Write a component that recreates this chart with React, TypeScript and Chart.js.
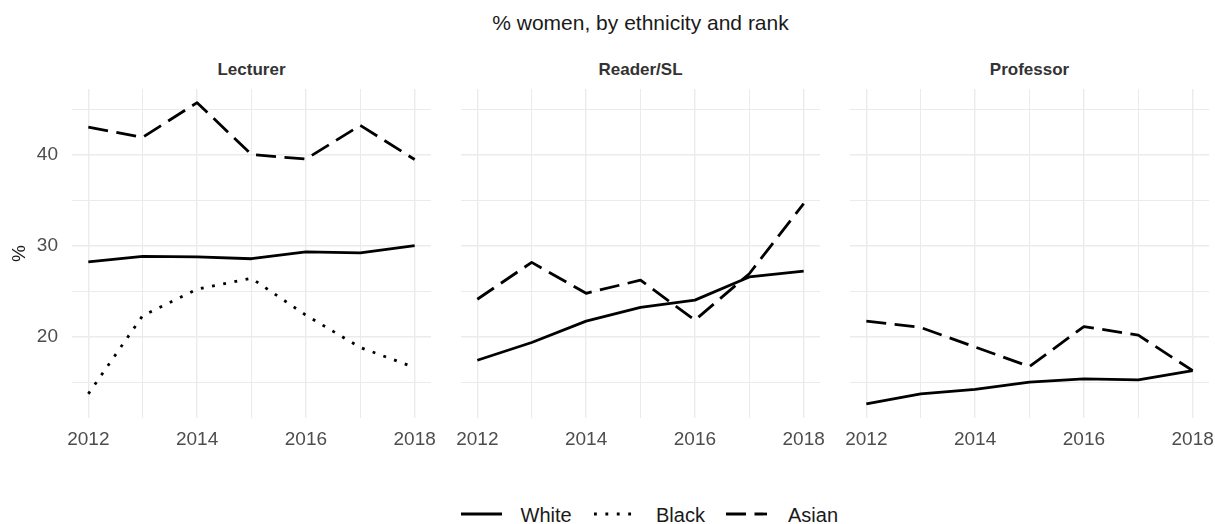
import React, { useEffect, useRef } from "react";
import { Chart, registerables } from "chart.js";

Chart.register(...registerables);

// ---------- data ----------
const years = [2012, 2013, 2014, 2015, 2016, 2017, 2018];
const yTickValues = [15, 20, 25, 30, 35, 40, 45];
const panelTitles = ["Lecturer", "Reader/SL", "Professor"];
const seriesNames = ["White", "Black", "Asian"];

const lecturerWhite = [28.2, 28.8, 28.75, 28.55, 29.3, 29.2, 30.0];
const lecturerBlack = [13.7, 22.3, 25.2, 26.4, 22.35, 18.8, 16.6];
const lecturerAsian = [43.0, 41.9, 45.7, 40.0, 39.5, 43.2, 39.45];

const readerWhite = [17.4, 19.35, 21.7, 23.2, 24.0, 26.55, 27.2];
const readerAsian = [24.1, 28.15, 24.75, 26.2, 21.8, 26.9, 34.6];

const professorWhite = [12.6, 13.7, 14.2, 15.0, 15.35, 15.25, 16.25];
const professorAsian = [21.7, 21.0, 18.85, 16.7, 21.1, 20.15, 16.25];

// ---------- styles ----------
const FONT = '"Liberation Sans", Arial, Helvetica, sans-serif';
const LINE_W = 2.8;
const DASH: Record<string, number[]> = {
  White: [],
  Black: [2.85, 8.55],
  Asian: [20, 8.5],
};
const GRID = "#EBEBEB";
const TICK_COLOR = "#4D4D4D";

const PANEL_TOP = 89;
const PANEL_H = 329;
const PANEL_W = 359;
const PANEL_LEFTS = [72, 461, 850];
const PAD_TOP = 30;
const XAXIS_H = 40;
const SIDE_PAD = 30;

type Series = { name: string; values: number[] };

const panelSeries: Series[][] = [
  [
    { name: "White", values: lecturerWhite },
    { name: "Black", values: lecturerBlack },
    { name: "Asian", values: lecturerAsian },
  ],
  [
    { name: "White", values: readerWhite },
    { name: "Asian", values: readerAsian },
  ],
  [
    { name: "White", values: professorWhite },
    { name: "Asian", values: professorAsian },
  ],
];

function Panel({ index }: { index: number }) {
  const ref = useRef<HTMLCanvasElement | null>(null);
  const showY = index === 0;
  const canvasLeft = showY ? 0 : PANEL_LEFTS[index] - SIDE_PAD;
  const canvasWidth = showY ? PANEL_LEFTS[0] + PANEL_W + SIDE_PAD : PANEL_W + 2 * SIDE_PAD;
  const canvasTop = PANEL_TOP - PAD_TOP;
  const canvasHeight = PAD_TOP + PANEL_H + XAXIS_H;

  useEffect(() => {
    if (!ref.current) return;
    const datasets = panelSeries[index].map((s) => ({
      label: s.name,
      data: years.map((x, i) => ({ x, y: s.values[i] })),
      borderColor: "#000000",
      backgroundColor: "#000000",
      borderWidth: LINE_W,
      borderDash: DASH[s.name],
      borderCapStyle: "butt" as const,
      borderJoinStyle: "round" as const,
      pointRadius: 0,
      pointHoverRadius: 0,
      tension: 0,
      fill: false,
    }));

    const gridWidth = (ctx: any) =>
      ctx.tick && ctx.tick.value % 2 === 0 ? 1.4 : 1.0;
    const yGridWidth = (ctx: any) =>
      ctx.tick && ctx.tick.value % 10 === 0 ? 1.4 : 1.0;

    const chart = new Chart(ref.current, {
      type: "line",
      data: { datasets },
      options: {
        animation: false,
        responsive: true,
        maintainAspectRatio: false,
        events: [],
        layout: {
          padding: {
            top: PAD_TOP,
            bottom: 0,
            left: showY ? 0 : SIDE_PAD,
            right: SIDE_PAD,
          },
        },
        plugins: {
          legend: { display: false },
          tooltip: { enabled: false },
          title: { display: false },
        },
        scales: {
          x: {
            type: "linear",
            min: 2011.7,
            max: 2018.3,
            afterBuildTicks: (s: any) => {
              s.ticks = years.map((v) => ({ value: v }));
            },
            afterFit: (s: any) => {
              s.height = XAXIS_H;
            },
            ticks: {
              autoSkip: false,
              maxRotation: 0,
              minRotation: 0,
              padding: 10,
              color: TICK_COLOR,
              font: { family: FONT, size: 19 },
              callback: (v: any) => (Number(v) % 2 === 0 ? String(v) : ""),
            },
            grid: {
              drawTicks: false,
              color: GRID,
              lineWidth: gridWidth,
            },
            border: { display: false },
          },
          y: {
            type: "linear",
            min: 11.05,
            max: 47.2,
            afterBuildTicks: (s: any) => {
              s.ticks = yTickValues.map((v) => ({ value: v }));
            },
            afterFit: (s: any) => {
              s.width = showY ? PANEL_LEFTS[0] : 0;
            },
            ticks: {
              display: showY,
              padding: 14,
              color: TICK_COLOR,
              font: { family: FONT, size: 19 },
              callback: (v: any) => (Number(v) % 10 === 0 ? String(v) : ""),
            },
            title: {
              display: showY,
              text: "%",
              color: "#1A1A1A",
              font: { family: FONT, size: 19 },
              padding: { top: 8, bottom: 0 },
            },
            grid: {
              drawTicks: false,
              color: GRID,
              lineWidth: yGridWidth,
            },
            border: { display: false },
          },
        },
      },
    });
    return () => chart.destroy();
  }, [index]);

  return (
    <div
      style={{
        position: "absolute",
        left: canvasLeft,
        top: canvasTop,
        width: canvasWidth,
        height: canvasHeight,
      }}
    >
      <canvas ref={ref} />
    </div>
  );
}

function LegendKey({ left, name }: { left: number; name: string }) {
  const dash = DASH[name];
  return (
    <svg
      width={41}
      height={10}
      style={{ position: "absolute", left, top: 509.3 }}
    >
      <line
        x1={0}
        y1={5}
        x2={41}
        y2={5}
        stroke="#000"
        strokeWidth={LINE_W}
        strokeLinecap="butt"
        strokeDasharray={dash.length ? dash.join(" ") : undefined}
      />
    </svg>
  );
}

export default function App() {
  const keyLefts = [460.7, 594.3, 726];
  const textLefts = [520.5, 656, 788];
  return (
    <div
      style={{
        position: "absolute",
        left: 0,
        top: 0,
        width: 1215,
        height: 524,
        overflow: "hidden",
        background: "#ffffff",
        fontFamily: FONT,
      }}
    >
      <div
        style={{
          position: "absolute",
          left: PANEL_LEFTS[0],
          width: PANEL_LEFTS[2] + PANEL_W - PANEL_LEFTS[0],
          top: 12.2,
          fontSize: 21,
          lineHeight: "21px",
          textAlign: "center",
          color: "#1A1A1A",
          whiteSpace: "nowrap",
        }}
      >
        % women, by ethnicity and rank
      </div>
      {panelTitles.map((t, i) => (
        <div
          key={t}
          style={{
            position: "absolute",
            left: PANEL_LEFTS[i],
            width: PANEL_W,
            top: 61.3,
            fontSize: 17,
            lineHeight: "17px",
            fontWeight: "bold",
            textAlign: "center",
            color: "#333333",
            whiteSpace: "nowrap",
          }}
        >
          {t}
        </div>
      ))}
      {panelTitles.map((t, i) => (
        <Panel key={t} index={i} />
      ))}
      {seriesNames.map((n, i) => (
        <React.Fragment key={n}>
          <LegendKey left={keyLefts[i]} name={n} />
          <div
            style={{
              position: "absolute",
              left: textLefts[i],
              top: 504.8,
              fontSize: 20,
              lineHeight: "20px",
              color: "#1A1A1A",
              whiteSpace: "nowrap",
            }}
          >
            {n}
          </div>
        </React.Fragment>
      ))}
    </div>
  );
}
